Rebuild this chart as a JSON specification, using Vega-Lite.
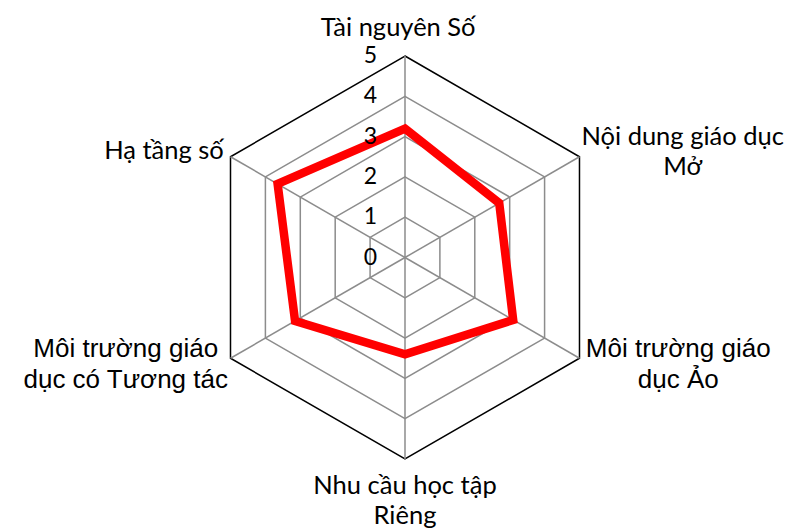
{
  "$schema": "https://vega.github.io/schema/vega-lite/v6.json",
  "width": 785,
  "height": 529,
  "padding": 0,
  "autosize": {"type": "none"},
  "background": "white",
  "config": {"view": {"stroke": null}},
  "datasets": {
    "scores": [
      {"axis": "Tài nguyên Số", "label": "Tài nguyên Số", "value": 3.2},
      {"axis": "Nội dung giáo dục Mở", "label": "Nội dung giáo dục\nMở", "value": 2.7},
      {"axis": "Môi trường giáo dục Ảo", "label": "Môi trường giáo\ndục Ảo", "value": 3.1},
      {"axis": "Nhu cầu học tập Riêng", "label": "Nhu cầu học tập\nRiêng", "value": 2.4},
      {"axis": "Môi trường giáo dục có Tương tác", "label": "Môi trường giáo\ndục có Tương tác", "value": 3.15},
      {"axis": "Hạ tầng số", "label": "Hạ tầng số", "value": 3.65}
    ],
    "grid": [
      {"level": 1, "axis": "Tài nguyên Số"}, {"level": 1, "axis": "Nội dung giáo dục Mở"}, {"level": 1, "axis": "Môi trường giáo dục Ảo"}, {"level": 1, "axis": "Nhu cầu học tập Riêng"}, {"level": 1, "axis": "Môi trường giáo dục có Tương tác"}, {"level": 1, "axis": "Hạ tầng số"},
      {"level": 2, "axis": "Tài nguyên Số"}, {"level": 2, "axis": "Nội dung giáo dục Mở"}, {"level": 2, "axis": "Môi trường giáo dục Ảo"}, {"level": 2, "axis": "Nhu cầu học tập Riêng"}, {"level": 2, "axis": "Môi trường giáo dục có Tương tác"}, {"level": 2, "axis": "Hạ tầng số"},
      {"level": 3, "axis": "Tài nguyên Số"}, {"level": 3, "axis": "Nội dung giáo dục Mở"}, {"level": 3, "axis": "Môi trường giáo dục Ảo"}, {"level": 3, "axis": "Nhu cầu học tập Riêng"}, {"level": 3, "axis": "Môi trường giáo dục có Tương tác"}, {"level": 3, "axis": "Hạ tầng số"},
      {"level": 4, "axis": "Tài nguyên Số"}, {"level": 4, "axis": "Nội dung giáo dục Mở"}, {"level": 4, "axis": "Môi trường giáo dục Ảo"}, {"level": 4, "axis": "Nhu cầu học tập Riêng"}, {"level": 4, "axis": "Môi trường giáo dục có Tương tác"}, {"level": 4, "axis": "Hạ tầng số"},
      {"level": 5, "axis": "Tài nguyên Số"}, {"level": 5, "axis": "Nội dung giáo dục Mở"}, {"level": 5, "axis": "Môi trường giáo dục Ảo"}, {"level": 5, "axis": "Nhu cầu học tập Riêng"}, {"level": 5, "axis": "Môi trường giáo dục có Tương tác"}, {"level": 5, "axis": "Hạ tầng số"}
    ],
    "ticks": [{"tick": 0}, {"tick": 1}, {"tick": 2}, {"tick": 3}, {"tick": 4}, {"tick": 5}]
  },
  "layer": [
    {
      "data": {"name": "grid"},
      "transform": [
        {"window": [{"op": "row_number", "as": "rn"}], "groupby": ["level"]},
        {"calculate": "(datum.rn - 1) * PI / 3", "as": "a"},
        {"calculate": "datum.level * sin(datum.a)", "as": "gx"},
        {"calculate": "datum.level * cos(datum.a)", "as": "gy"}
      ],
      "mark": {"type": "line", "interpolate": "linear-closed", "strokeWidth": 1.5},
      "encoding": {
        "x": {"field": "gx", "type": "quantitative", "scale": {"domain": [-10.05, 9.43], "nice": false, "zero": false}, "axis": null},
        "y": {"field": "gy", "type": "quantitative", "scale": {"domain": [-6.737, 6.39], "nice": false, "zero": false}, "axis": null},
        "detail": {"field": "level", "type": "nominal"},
        "order": {"field": "rn", "type": "quantitative"},
        "color": {"condition": {"test": "datum.level == 5", "value": "#000000"}, "value": "#8c8c8c"}
      }
    },
    {
      "data": {"name": "scores"},
      "transform": [
        {"window": [{"op": "row_number", "as": "rn"}]},
        {"calculate": "(datum.rn - 1) * PI / 3", "as": "a"},
        {"calculate": "5 * sin(datum.a)", "as": "sx"},
        {"calculate": "5 * cos(datum.a)", "as": "sy"}
      ],
      "mark": {"type": "rule", "color": "#8c8c8c", "strokeWidth": 1.5},
      "encoding": {
        "x": {"field": "sx", "type": "quantitative", "scale": {"domain": [-10.05, 9.43], "nice": false, "zero": false}, "axis": null},
        "y": {"field": "sy", "type": "quantitative", "scale": {"domain": [-6.737, 6.39], "nice": false, "zero": false}, "axis": null},
        "x2": {"datum": 0},
        "y2": {"datum": 0}
      }
    },
    {
      "data": {"name": "scores"},
      "transform": [
        {"window": [{"op": "row_number", "as": "rn"}]},
        {"calculate": "(datum.rn - 1) * PI / 3", "as": "a"},
        {"calculate": "datum.value * sin(datum.a)", "as": "px"},
        {"calculate": "datum.value * cos(datum.a)", "as": "py"}
      ],
      "mark": {"type": "line", "interpolate": "linear-closed", "strokeWidth": 8.5, "color": "#ff0000", "strokeJoin": "miter"},
      "encoding": {
        "x": {"field": "px", "type": "quantitative", "scale": {"domain": [-10.05, 9.43], "nice": false, "zero": false}, "axis": null},
        "y": {"field": "py", "type": "quantitative", "scale": {"domain": [-6.737, 6.39], "nice": false, "zero": false}, "axis": null},
        "order": {"field": "rn", "type": "quantitative"}
      }
    },
    {
      "data": {"name": "ticks"},
      "transform": [{"calculate": "0", "as": "zx"}],
      "mark": {"type": "text", "align": "right", "baseline": "middle", "dx": -28, "font": "Lato", "fontSize": 23, "color": "#000000"},
      "encoding": {
        "x": {"field": "zx", "type": "quantitative", "scale": {"domain": [-10.05, 9.43], "nice": false, "zero": false}, "axis": null},
        "y": {"field": "tick", "type": "quantitative", "scale": {"domain": [-6.737, 6.39], "nice": false, "zero": false}, "axis": null},
        "text": {"field": "tick", "type": "nominal"}
      }
    },
    {
      "data": {"name": "scores"},
      "transform": [
        {"window": [{"op": "row_number", "as": "rn"}]},
        {"filter": "datum.rn != 3 && datum.rn != 5"},
        {"calculate": "(datum.rn - 1) * PI / 3", "as": "a"},
        {"calculate": "split(datum.label, '\\n')", "as": "nl"},
        {"calculate": "max(length(datum.nl[0]), datum.nl.length > 1 ? length(datum.nl[1]) : 0)", "as": "mc"},
        {"calculate": "sin(datum.a) > 0.1 ? 1 : (sin(datum.a) < -0.1 ? -1 : 0)", "as": "side"},
        {"calculate": "5 * sin(datum.a) + datum.side * (0.35 + 0.13 * datum.mc) + (datum.side == 0 && cos(datum.a) > 0.9 ? -0.17 : 0)", "as": "lx"},
        {"calculate": "5 * cos(datum.a) + (cos(datum.a) > 0.9 ? 0.7 : (cos(datum.a) < -0.9 ? -1.03 : cos(datum.a) * 0.28)) + (datum.nl.length - 1) * 0.36", "as": "ly"}
      ],
      "mark": {"type": "text", "align": "center", "baseline": "middle", "lineBreak": "\n", "lineHeight": 30, "font": "Lato", "fontSize": 25.5, "color": "#000000"},
      "encoding": {
        "x": {"field": "lx", "type": "quantitative", "scale": {"domain": [-10.05, 9.43], "nice": false, "zero": false}, "axis": null},
        "y": {"field": "ly", "type": "quantitative", "scale": {"domain": [-6.737, 6.39], "nice": false, "zero": false}, "axis": null},
        "text": {"field": "label", "type": "nominal"}
      }
    },
    {
      "data": {"name": "scores"},
      "transform": [
        {"window": [{"op": "row_number", "as": "rn"}]},
        {"filter": "datum.rn == 3 || datum.rn == 5"},
        {"calculate": "(datum.rn - 1) * PI / 3", "as": "a"},
        {"calculate": "split(datum.label, '\\n')", "as": "nl"},
        {"calculate": "max(length(datum.nl[0]), datum.nl.length > 1 ? length(datum.nl[1]) : 0)", "as": "mc"},
        {"calculate": "sin(datum.a) > 0.1 ? 1 : (sin(datum.a) < -0.1 ? -1 : 0)", "as": "side"},
        {"calculate": "5 * sin(datum.a) + datum.side * (0.2 + 0.15 * datum.mc)", "as": "lx"},
        {"calculate": "5 * cos(datum.a) + cos(datum.a) * 0.28 + (datum.nl.length - 1) * 0.36", "as": "ly"}
      ],
      "mark": {"type": "text", "align": "center", "baseline": "middle", "lineBreak": "\n", "lineHeight": 31, "font": "Liberation Sans", "fontSize": 26, "color": "#000000"},
      "encoding": {
        "x": {"field": "lx", "type": "quantitative", "scale": {"domain": [-10.05, 9.43], "nice": false, "zero": false}, "axis": null},
        "y": {"field": "ly", "type": "quantitative", "scale": {"domain": [-6.737, 6.39], "nice": false, "zero": false}, "axis": null},
        "text": {"field": "label", "type": "nominal"}
      }
    }
  ]
}
